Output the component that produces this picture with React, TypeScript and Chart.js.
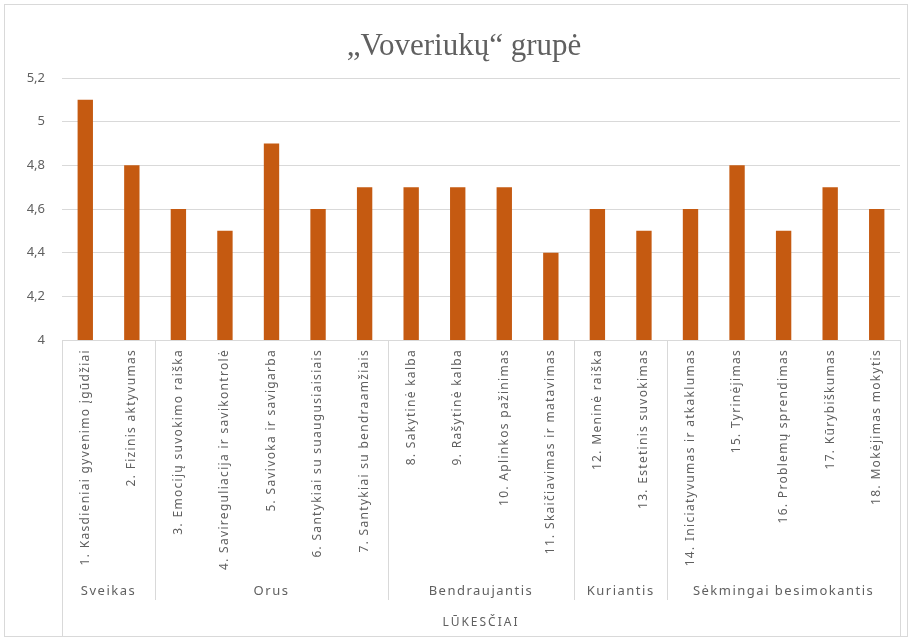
import React, { useEffect, useRef } from "react";
import { Chart, registerables } from "chart.js";

Chart.register(...registerables);

const categories = [
  "1. Kasdieniai gyvenimo įgūdžiai",
  "2. Fizinis aktyvumas",
  "3. Emocijų suvokimo raiška",
  "4. Savireguliacija ir savikontrolė",
  "5. Savivoka ir savigarba",
  "6. Santykiai su suaugusiaisiais",
  "7. Santykiai su bendraamžiais",
  "8. Sakytinė kalba",
  "9. Rašytinė kalba",
  "10. Aplinkos pažinimas",
  "11. Skaičiavimas ir matavimas",
  "12. Meninė raiška",
  "13. Estetinis suvokimas",
  "14. Iniciatyvumas ir atkaklumas",
  "15. Tyrinėjimas",
  "16. Problemų sprendimas",
  "17. Kūrybiškumas",
  "18. Mokėjimas mokytis",
];

const values = [5.1, 4.8, 4.6, 4.5, 4.9, 4.6, 4.7, 4.7, 4.7, 4.7, 4.4, 4.6, 4.5, 4.6, 4.8, 4.5, 4.7, 4.6];

const groupNames = ["Sveikas", "Orus", "Bendraujantis", "Kuriantis", "Sėkmingai besimokantis"];
const groupSizes = [2, 5, 4, 2, 5];

const titleText = "„Voveriukų“ grupė";
const axisTitle = "LŪKESČIAI";

const yMin = 4;
const yMax = 5.2;
const yStep = 0.2;

const textColor = "#606060";
const lineColor = "#d9d9d9";
const barColor = "#C55A11";

const setSpacing = (ctx: CanvasRenderingContext2D, px: number) => {
  (ctx as any).letterSpacing = `${px}px`;
};

const multiLevelAxis = {
  id: "multiLevelAxis",
  afterDraw(chart: Chart) {
    const { ctx, chartArea } = chart;
    const x = chart.scales.x;
    const bottom = chartArea.bottom;
    const step = x.getPixelForValue(1) - x.getPixelForValue(0);
    const edge = (i: number) => x.getPixelForValue(i) - step / 2;

    ctx.save();

    // title
    ctx.fillStyle = textColor;
    ctx.font = "31px 'Liberation Serif'";
    ctx.textAlign = "center";
    ctx.textBaseline = "alphabetic";
    setSpacing(ctx, 0);
    ctx.fillText(titleText, 464, 55);

    // rotated category labels
    ctx.font = "12px 'Noto Sans'";
    setSpacing(ctx, 1.3);
    categories.forEach((label, i) => {
      const px = x.getPixelForValue(i);
      ctx.save();
      ctx.translate(px, bottom + 9);
      ctx.rotate(-Math.PI / 2);
      ctx.textAlign = "right";
      ctx.textBaseline = "middle";
      ctx.fillText(label, 0, 0);
      ctx.restore();
    });

    // group separators and labels
    ctx.strokeStyle = lineColor;
    ctx.lineWidth = 1;
    const groupBottom = bottom + 260;
    const outerBottom = bottom + 296;
    ctx.beginPath();
    ctx.moveTo(Math.round(edge(0)) + 0.5, bottom);
    ctx.lineTo(Math.round(edge(0)) + 0.5, outerBottom);
    ctx.moveTo(Math.round(edge(categories.length)) + 0.5, bottom);
    ctx.lineTo(Math.round(edge(categories.length)) + 0.5, outerBottom);
    let start = 0;
    groupSizes.forEach((n) => {
      const end = start + n;
      if (end < categories.length) {
        const ex = Math.round(edge(end)) + 0.5;
        ctx.moveTo(ex, bottom);
        ctx.lineTo(ex, groupBottom);
      }
      start = end;
    });
    ctx.stroke();

    ctx.font = "13px 'Noto Sans'";
    setSpacing(ctx, 1.5);
    ctx.textAlign = "center";
    ctx.textBaseline = "middle";
    start = 0;
    groupSizes.forEach((n, gi) => {
      const end = start + n;
      const cx = (edge(start) + edge(end)) / 2;
      ctx.fillText(groupNames[gi], cx, bottom + 251);
      start = end;
    });

    ctx.font = "12px 'Noto Sans'";
    setSpacing(ctx, 2);
    ctx.fillText(axisTitle, (chartArea.left + chartArea.right) / 2, bottom + 283);

    ctx.restore();
  },
};

export default function App() {
  const ref = useRef<HTMLCanvasElement | null>(null);

  useEffect(() => {
    if (!ref.current) return;
    const chart = new Chart(ref.current, {
      type: "bar",
      data: {
        labels: categories,
        datasets: [
          {
            data: values,
            backgroundColor: barColor,
            barPercentage: 0.33,
            categoryPercentage: 1,
          },
        ],
      },
      options: {
        animation: false,
        responsive: false,
        maintainAspectRatio: false,
        layout: { padding: { left: 0, right: 13, top: 78, bottom: 301 } },
        plugins: {
          legend: { display: false },
          tooltip: { enabled: false },
          title: { display: false },
        },
        scales: {
          x: {
            display: false,
          },
          y: {
            min: yMin,
            max: yMax,
            afterFit: (scale: any) => {
              scale.width = 62;
            },
            ticks: {
              stepSize: yStep,
              padding: 17,
              color: textColor,
              font: { family: "'Noto Sans'", size: 13 },
              callback: (v: any) => Number(Number(v).toFixed(1)).toString().replace(".", ","),
            },
            grid: { color: lineColor, drawTicks: false },
            border: { display: false },
          },
        },
      },
      plugins: [multiLevelAxis],
    });
    return () => chart.destroy();
  }, []);

  return (
    <div style={{ position: "fixed", left: 0, top: 0, width: 913, height: 641, background: "#fff" }}>
      <div
        style={{
          position: "absolute",
          left: 4,
          top: 4,
          width: 904,
          height: 633,
          border: "1px solid #d9d9d9",
          boxSizing: "border-box",
        }}
      />
      <canvas ref={ref} width={913} height={641} style={{ position: "absolute", left: 0, top: 0 }} />
    </div>
  );
}
